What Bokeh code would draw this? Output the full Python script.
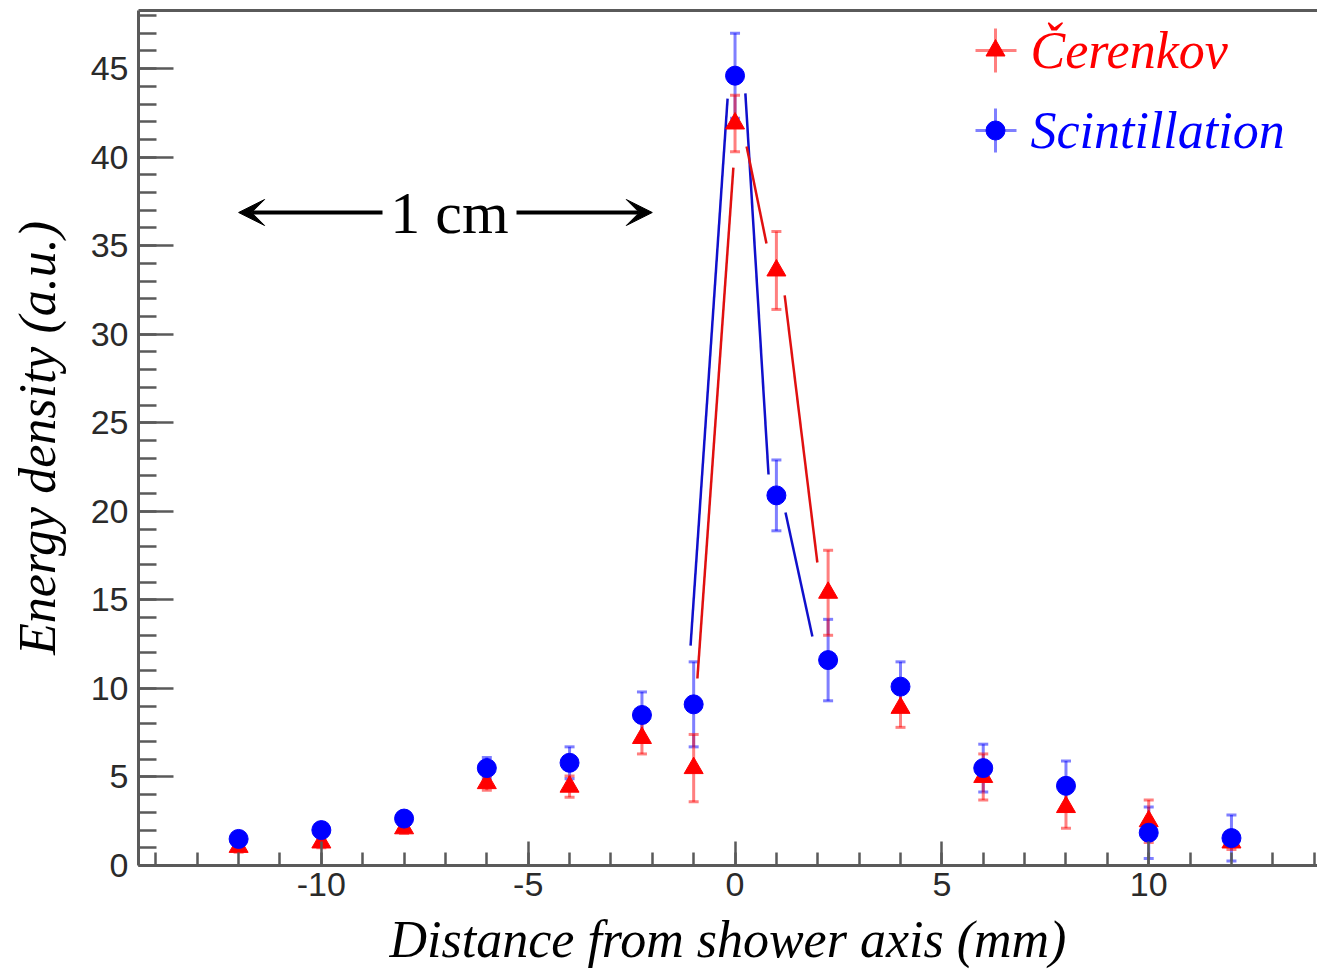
from bokeh.plotting import figure
from bokeh.models import (Range1d, LinearAxis, FixedTicker, Whisker, TeeHead,
                          Arrow, VeeHead, ColumnDataSource)
from bokeh.core.properties import value
from bokeh.embed import file_html
from bokeh.resources import INLINE

# ---------------- data ----------------
distance = [-12, -10, -8, -6, -4, -2.25, -1, 0, 1, 2.25, 4, 6, 8, 10, 12]
scint = [1.5, 2.0, 2.65, 5.5, 5.8, 8.5, 9.1, 44.6, 20.9, 11.6, 10.1, 5.5, 4.5, 1.85, 1.55]
scint_err = [0.4, 0.4, 0.4, 0.6, 0.9, 1.3, 2.4, 2.4, 2.0, 2.3, 1.4, 1.35, 1.4, 1.45, 1.3]
cer = [1.05, 1.3, 2.1, 4.65, 4.45, 7.2, 5.5, 41.9, 33.6, 15.4, 8.9, 5.0, 3.3, 2.5, 1.3]
cer_err = [0.3, 0.3, 0.3, 0.4, 0.6, 0.9, 1.9, 1.6, 2.2, 2.4, 1.1, 1.3, 1.2, 1.2, 0.4]
x_ticks = [-10, -5, 0, 5, 10]
y_ticks = [0, 5, 10, 15, 20, 25, 30, 35, 40, 45]

# hand-drawn guide lines around the peak
scint_guide_x0 = [-1.075, 0.25, 1.22]
scint_guide_y0 = [12.42, 43.6, 19.93]
scint_guide_x1 = [-0.18, 0.81, 1.87]
scint_guide_y1 = [43.3, 22.08, 12.93]
cer_guide_x0 = [-0.91, 0.28, 1.20]
cer_guide_y0 = [10.56, 40.6, 32.19]
cer_guide_x1 = [-0.04, 0.76, 1.99]
cer_guide_y1 = [39.41, 35.12, 17.11]

# ---------------- layout ----------------
W, H = 1317, 976
L, R, T, B = 138, 0, 10, 111
X0, X1 = -14.42, 14.08
Y0, Y1 = 0.0, 48.28
fw, fh = W - L - R, H - T - B
sx = fw / (X1 - X0)
sy = fh / (Y1 - Y0)


def px2x(px):
    return X0 + (px - L) / sx


def py2y(py):
    return Y1 - (py - T) / sy


p = figure(width=W, height=H, x_range=Range1d(X0, X1), y_range=Range1d(Y0, Y1),
           output_backend="svg", toolbar_location=None,
           min_border_left=L, min_border_right=R, min_border_top=T, min_border_bottom=B)
p.xgrid.visible = False
p.ygrid.visible = False
p.outline_line_color = None
p.background_fill_color = "white"
p.border_fill_color = "white"

axis_col = "#5a5a5a"
for ax in (p.xaxis[0], p.yaxis[0]):
    ax.axis_line_color = axis_col
    ax.axis_line_width = 3
    ax.major_tick_line_color = axis_col
    ax.minor_tick_line_color = axis_col
    ax.major_tick_line_width = 2.5
    ax.minor_tick_line_width = 2.5
    ax.major_tick_out = 0
    ax.minor_tick_out = 0
    ax.major_label_text_font = "Liberation Sans"
    ax.major_label_text_font_size = "34px"
    ax.major_label_text_color = "#2a2a2a"
    ax.axis_label_text_font = "Liberation Serif"
    ax.axis_label_text_font_style = "italic"
    ax.axis_label_text_font_size = "52px"
    ax.axis_label_text_color = "black"

p.xaxis.ticker = FixedTicker(ticks=x_ticks, minor_ticks=list(range(-14, 15)))
p.xaxis.major_label_overrides = {t: str(t) for t in x_ticks}
p.xaxis.major_tick_in = 24
p.xaxis.minor_tick_in = 13
p.xaxis.major_label_standoff = 7
p.xaxis.axis_label = "Distance from shower axis (mm)"
p.xaxis.axis_label_standoff = 12

p.yaxis.ticker = FixedTicker(ticks=y_ticks, minor_ticks=list(range(0, 49)))
p.yaxis.major_label_overrides = {t: str(t) for t in y_ticks}
p.yaxis.major_tick_in = 35
p.yaxis.minor_tick_in = 18
p.yaxis.major_label_standoff = 10
p.yaxis.axis_label = "Energy density (a.u.)"
p.yaxis.axis_label_standoff = 22

top = LinearAxis(ticker=FixedTicker(ticks=[]), axis_line_color=axis_col, axis_line_width=3,
                 major_tick_in=0, major_tick_out=0, minor_tick_in=0, minor_tick_out=0,
                 major_label_text_font_size="0px", major_label_standoff=0)
p.add_layout(top, "above")

red = "#ff0000"
blue = "#0000ff"

# ---------------- error bars ----------------
src_c = ColumnDataSource(dict(x=distance, y=cer,
                              lo=[v - e for v, e in zip(cer, cer_err)],
                              hi=[v + e for v, e in zip(cer, cer_err)]))
src_s = ColumnDataSource(dict(x=distance, y=scint,
                              lo=[v - e for v, e in zip(scint, scint_err)],
                              hi=[v + e for v, e in zip(scint, scint_err)]))

for src, col in ((src_s, blue), (src_c, red)):
    w = Whisker(source=src, base="x", lower="lo", upper="hi", dimension="height",
                line_color=col, line_alpha=0.5, line_width=3,
                upper_head=TeeHead(size=10, line_color=col, line_alpha=0.5, line_width=3),
                lower_head=TeeHead(size=10, line_color=col, line_alpha=0.5, line_width=3))
    p.add_layout(w)

# ---------------- peak guide lines ----------------
p.segment(x0=scint_guide_x0, y0=scint_guide_y0, x1=scint_guide_x1, y1=scint_guide_y1,
          line_color="#1010cc", line_width=2.5)
p.segment(x0=cer_guide_x0, y0=cer_guide_y0, x1=cer_guide_x1, y1=cer_guide_y1,
          line_color="#e01010", line_width=2.5)

# ---------------- markers ----------------
p.scatter(x="x", y="y", source=src_c, marker="triangle", size=19,
          fill_color=red, line_color=red)
p.scatter(x="x", y="y", source=src_s, marker="circle", size=19,
          fill_color=blue, line_color=blue)

# ---------------- legend (manual) ----------------
leg_x = px2x(995)
for py, col, mk, lab in ((50, red, "triangle", "Čerenkov"),
                         (130, blue, "circle", "Scintillation")):
    yy = py2y(py)
    p.segment(x0=[px2x(975)], y0=[yy], x1=[px2x(1016)], y1=[yy],
              line_color=col, line_alpha=0.5, line_width=3)
    p.segment(x0=[leg_x], y0=[py2y(py - 22)], x1=[leg_x], y1=[py2y(py + 22)],
              line_color=col, line_alpha=0.5, line_width=3)
    p.scatter(x=[leg_x], y=[yy], marker=mk, size=19, fill_color=col, line_color=col)
    p.text(x=[px2x(1030)], y=[yy], text=[lab], text_font=value("Liberation Serif"),
           text_font_style="italic", text_font_size="52px", text_color=col,
           text_baseline="middle", text_align="left")

# ---------------- 1 cm scale arrow ----------------
ay = py2y(212)
arrow_left, arrow_right = -12.0, -2.0
p.add_layout(Arrow(end=VeeHead(size=26, fill_color="black", line_color="black"),
                   x_start=px2x(382), y_start=ay, x_end=arrow_left, y_end=ay,
                   line_width=4, line_color="black"))
p.add_layout(Arrow(end=VeeHead(size=26, fill_color="black", line_color="black"),
                   x_start=px2x(516), y_start=ay, x_end=arrow_right, y_end=ay,
                   line_width=4, line_color="black"))
p.text(x=[px2x(449)], y=[ay], text=["1 cm"], text_font=value("Liberation Serif"),
       text_font_size="60px", text_color="black", text_baseline="middle",
       text_align="center")

open("out.html", "w").write(file_html(p, INLINE))
